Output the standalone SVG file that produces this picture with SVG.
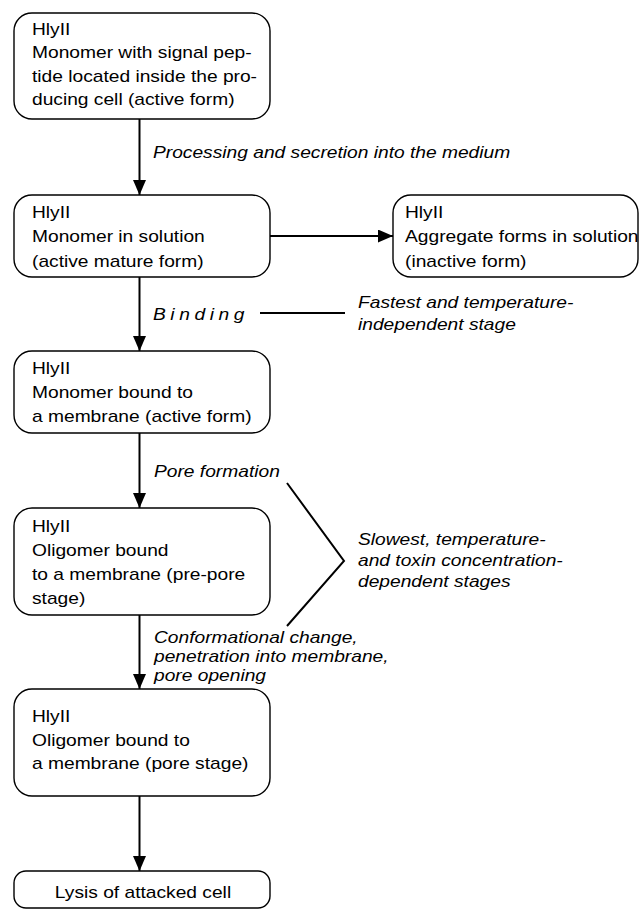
<svg xmlns="http://www.w3.org/2000/svg" width="639" height="909" viewBox="0 0 639 909">
<style>
.box{fill:#fff;stroke:#000;stroke-width:1.4}
.t{font-family:"Liberation Sans",Arial,sans-serif;font-size:16px;fill:#000}
.i{font-family:"Liberation Sans",Arial,sans-serif;font-size:16px;font-style:italic;fill:#000}
.c{stroke:#000;stroke-width:2;fill:none}
</style>
<defs>
<marker id="ah" markerUnits="userSpaceOnUse" markerWidth="15" markerHeight="13" refX="15" refY="6.5" orient="auto">
<path d="M0,0 L15,6.5 L0,13 z" fill="#000"/>
</marker>
</defs>
<rect width="639" height="909" fill="#fff"/>
<g id="connectors">
<line class="c" x1="139.5" y1="119" x2="139.5" y2="195" marker-end="url(#ah)"/>
<line class="c" x1="270" y1="236" x2="393" y2="236" marker-end="url(#ah)"/>
<line class="c" x1="139.5" y1="277" x2="139.5" y2="351" marker-end="url(#ah)"/>
<line class="c" x1="139.5" y1="433" x2="139.5" y2="508" marker-end="url(#ah)"/>
<line class="c" x1="139.5" y1="615" x2="139.5" y2="689" marker-end="url(#ah)"/>
<line class="c" x1="139.5" y1="796" x2="139.5" y2="871" marker-end="url(#ah)"/>
<line class="c" x1="260" y1="313" x2="345" y2="313"/>
<polyline class="c" points="287,483 344,561 287,626"/>
<text class="i" transform="translate(153 158) scale(1.2 1)">Processing and secretion into the medium</text>
<text class="i" transform="translate(153 320) scale(1.2 1)" letter-spacing="3.8">Binding</text>
<text class="i" transform="translate(358 308) scale(1.2 1)"><tspan x="0" y="0">Fastest and temperature-</tspan><tspan x="0" y="22">independent stage</tspan></text>
<text class="i" transform="translate(154 477) scale(1.2 1)">Pore formation</text>
<text class="i" transform="translate(358 545) scale(1.2 1)"><tspan x="0" y="0">Slowest, temperature-</tspan><tspan x="0" y="21">and toxin concentration-</tspan><tspan x="0" y="42">dependent stages</tspan></text>
<text class="i" transform="translate(154 643) scale(1.2 1)"><tspan x="0" y="0">Conformational change,</tspan><tspan x="0" y="19">penetration into membrane,</tspan><tspan x="0" y="38">pore opening</tspan></text>
</g>
<g id="n1">
<rect class="box" x="14" y="13" width="256" height="106" rx="18"/>
<text class="t" transform="translate(32 35) scale(1.2 1)"><tspan x="0" y="0">HlyII</tspan><tspan x="0" y="23.5">Monomer with signal pep-</tspan><tspan x="0" y="47">tide located inside the pro-</tspan><tspan x="0" y="70.5">ducing cell (active form)</tspan></text>
</g>
<g id="n2">
<rect class="box" x="14" y="195" width="256" height="82" rx="18"/>
<text class="t" transform="translate(32 218) scale(1.2 1)"><tspan x="0" y="0">HlyII</tspan><tspan x="0" y="24.5">Monomer in solution</tspan><tspan x="0" y="49">(active mature form)</tspan></text>
</g>
<g id="n3">
<rect class="box" x="393" y="195" width="245" height="82" rx="18"/>
<text class="t" transform="translate(405 218) scale(1.2 1)"><tspan x="0" y="0">HlyII</tspan><tspan x="0" y="24.5">Aggregate forms in solution</tspan><tspan x="0" y="49">(inactive form)</tspan></text>
</g>
<g id="n4">
<rect class="box" x="14" y="351" width="256" height="82" rx="18"/>
<text class="t" transform="translate(32 374) scale(1.2 1)"><tspan x="0" y="0">HlyII</tspan><tspan x="0" y="24">Monomer bound to</tspan><tspan x="0" y="48">a membrane (active form)</tspan></text>
</g>
<g id="n5">
<rect class="box" x="14" y="508" width="256" height="107" rx="18"/>
<text class="t" transform="translate(32 532) scale(1.2 1)"><tspan x="0" y="0">HlyII</tspan><tspan x="0" y="24">Oligomer bound</tspan><tspan x="0" y="48">to a membrane (pre-pore</tspan><tspan x="0" y="72">stage)</tspan></text>
</g>
<g id="n6">
<rect class="box" x="14" y="689" width="256" height="107" rx="18"/>
<text class="t" transform="translate(32 722) scale(1.2 1)"><tspan x="0" y="0">HlyII</tspan><tspan x="0" y="24">Oligomer bound to</tspan><tspan x="0" y="47.5">a membrane (pore stage)</tspan></text>
</g>
<g id="n7">
<rect class="box" x="14" y="871" width="256" height="37" rx="12"/>
<text class="t" transform="translate(143 898) scale(1.2 1)" text-anchor="middle">Lysis of attacked cell</text>
</g>
</svg>
